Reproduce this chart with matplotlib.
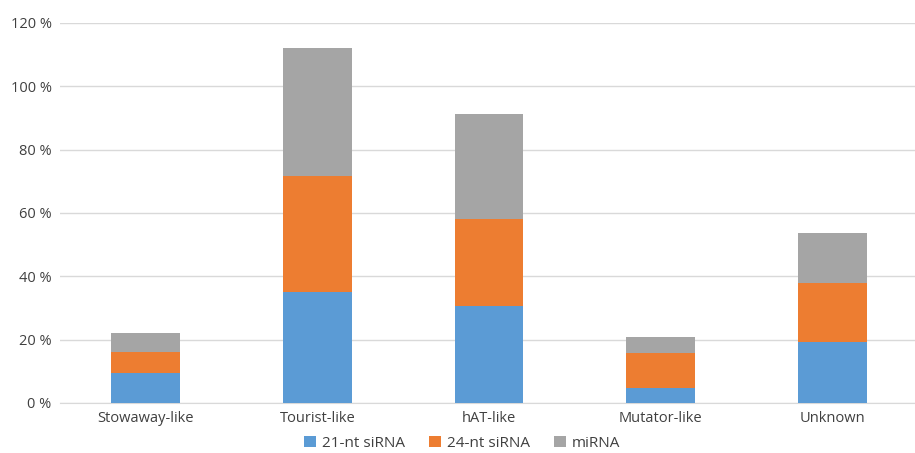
import numpy as np
import matplotlib.pyplot as plt
from matplotlib.ticker import FuncFormatter

families = ["Stowaway-like", "Tourist-like", "hAT-like", "Mutator-like", "Unknown"]
sirna21 = [9.4, 35.2, 30.6, 4.8, 19.4]
sirna24 = [6.6, 36.5, 27.4, 10.9, 18.4]
mirna = [6.0, 40.3, 33.2, 5.0, 16.0]

colors = ["#5B9BD5", "#ED7D31", "#A5A5A5"]
plt.rcParams['font.family'] = ['Open Sans', 'DejaVu Sans']

fig = plt.figure(figsize=(9.15, 4.53), dpi=100)
ax = fig.add_axes([60/915, 50/453, 858/915, 380/453])

x = np.arange(len(families))
w = 0.4
b1 = np.array(sirna21)
b2 = b1 + np.array(sirna24)
ax.bar(x, sirna21, w, color=colors[0], label="21-nt siRNA", zorder=3)
ax.bar(x, sirna24, w, bottom=b1, color=colors[1], label="24-nt siRNA", zorder=3)
ax.bar(x, mirna, w, bottom=b2, color=colors[2], label="miRNA", zorder=3)

ax.set_xlim(-0.5, 4.5)
ax.set_ylim(0, 120)
ax.set_yticks(np.arange(0, 121, 20))
ax.yaxis.set_major_formatter(FuncFormatter(lambda v, p: "%d %%" % v))
ax.grid(axis='y', color='#D9D9D9', linewidth=1, zorder=0)
ax.set_xticks(x)
ax.set_xticklabels(families)
for s in ['top', 'right', 'left']:
    ax.spines[s].set_visible(False)
ax.spines['bottom'].set_color('#D9D9D9')
ax.tick_params(axis='both', length=0, labelsize=10.5, colors='#404040', pad=6)

ax.legend(loc='center', bbox_to_anchor=(0.505, 0.022), bbox_transform=fig.transFigure,
          ncol=3, frameon=False, fontsize=11, handlelength=0.75, handleheight=0.75,
          columnspacing=1.6, handletextpad=0.4, labelcolor='#404040')

fig.savefig("out.png", dpi=100)
